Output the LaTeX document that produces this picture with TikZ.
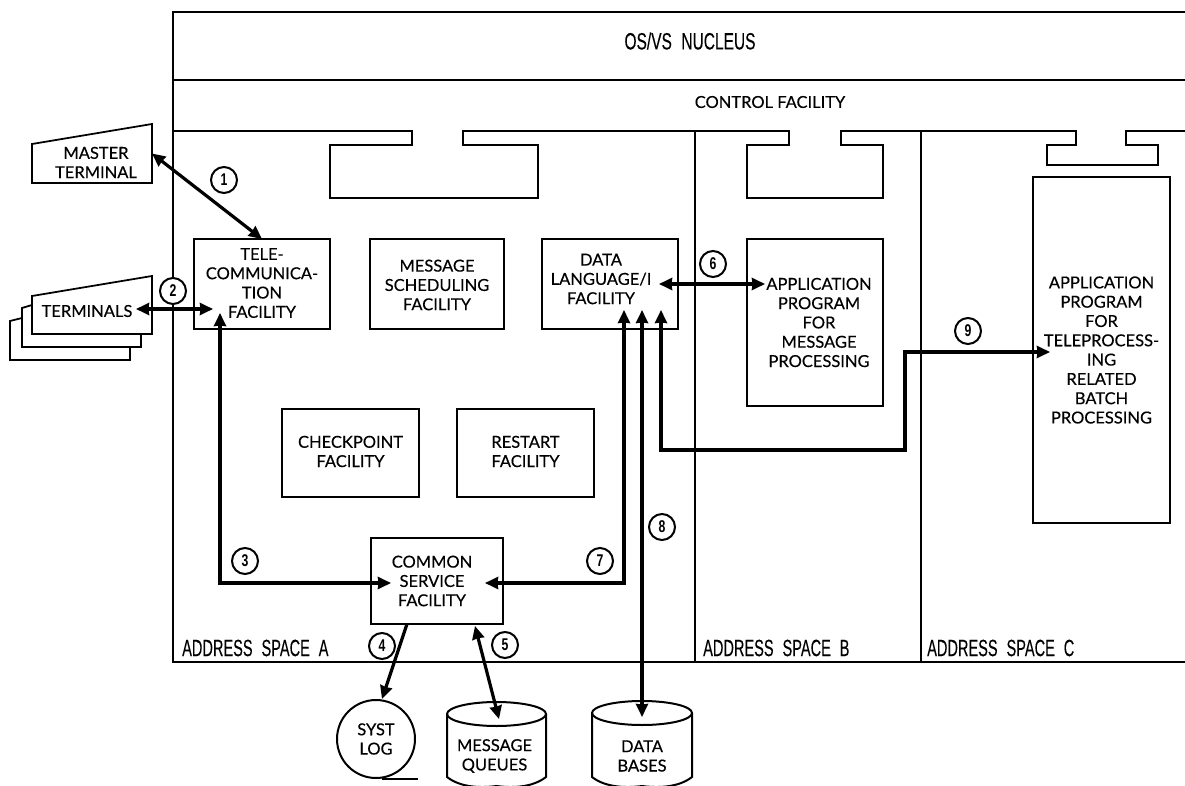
\documentclass[tikz,border=0pt]{standalone}
\usepackage{fontspec}
\usepackage{graphicx}
\setmainfont[FakeBold=0.35]{Lato}
\newfontfamily\condfont[WordSpace=2.2,FakeBold=0.2]{Liberation Sans}
\newfontfamily\numfont{Liberation Sans Bold}
\usetikzlibrary{arrows.meta,calc}
\newcommand{\condtxt}[2][.62]{\scalebox{#1}[1]{\fontsize{23.5}{26}\selectfont\condfont #2}}
\newcommand{\numtxt}[1]{\scalebox{.72}[1]{\fontsize{17}{18}\selectfont\numfont #1}}
\tikzset{
  x=1pt,y=-1pt,
  frameline/.style={line width=2pt,black},
  thinframe/.style={line width=2pt,black},
  txt/.style={font=\fontsize{16.5}{19.3}\selectfont,align=center,inner sep=0pt,text=black},
  box/.style={draw=black,line width=2pt,anchor=north west,inner sep=0pt,outer sep=0pt},
  shapeholder/.style={anchor=north west,inner sep=0pt,outer sep=0pt},
  arr/.style={line width=3.2pt,black,{Stealth[length=13pt,width=12pt,inset=0.5pt]}-{Stealth[length=13pt,width=12pt,inset=0.5pt]}},
  arrone/.style={line width=3.2pt,black,-{Stealth[length=13pt,width=12pt,inset=0.5pt]}},
  numc/.style={circle,draw=black,fill=white,line width=2pt,minimum size=26pt,inner sep=0pt},
  cond/.style={anchor=west,inner sep=0pt},
}
\begin{document}
\begin{tikzpicture}
\useasboundingbox (0,0) rectangle (1185,786);
% frame
\draw[frameline] (1185,12) -- (173,12) -- (173,662) -- (1185,662);
\draw[frameline] (173,80) -- (1185,80);
\draw[thinframe] (695,131) -- (695,662);
\draw[thinframe] (921,131) -- (921,662);
% control facility slots
\draw[frameline] (173,131) -- (412,131) -- (412,145) -- (330,145) -- (330,198) -- (538,198) -- (538,145) -- (463,145) -- (463,131)
  -- (789,131) -- (789,145) -- (747,145) -- (747,198) -- (883,198) -- (883,145) -- (841,145) -- (841,131)
  -- (1075.5,131) -- (1075.5,145) -- (1047,145) -- (1047,165) -- (1158,165) -- (1158,145) -- (1125.5,145) -- (1125.5,131) -- (1185,131);
\node[inner sep=0pt] (nucleus) at (690,41) {\condtxt[.66]{OS/VS NUCLEUS}};
\node[txt] (control) at (770,102) {CONTROL FACILITY};
\node[cond] (asa) at (182,648) {\condtxt{ADDRESS SPACE A}};
\node[cond] (asb) at (703,648) {\condtxt{ADDRESS SPACE B}};
\node[cond] (asc) at (927,648) {\condtxt{ADDRESS SPACE C}};
% terminals
\draw[line width=1.8pt,fill=white] (10,321) -- (22,318) -- (130,340) -- (130,360) -- (10,360) -- cycle;
\draw[line width=1.8pt,fill=white] (22,308) -- (32,305) -- (141,325) -- (141,347) -- (22,347) -- cycle;
\node[shapeholder,minimum width=120pt,minimum height=58pt] (terms) at (32,276) {};
\draw[line width=1.8pt,fill=white] (terms.south west) -- ($(terms.north west)+(0,20)$) -- (terms.north east) -- (terms.south east) -- cycle;
\node[txt] (termstxt) at ($(terms.center)+(-5,6)$) {TERMINALS};
\node[shapeholder,minimum width=120pt,minimum height=59pt] (master) at (32,124) {};
\draw[line width=1.8pt] (master.south west) -- ($(master.north west)+(0,20)$) -- (master.north east) -- (master.south east) -- cycle;
\node[txt] (mastertxt) at ($(master.center)+(4,9)$) {MASTER\\TERMINAL};
% facility boxes
\node[box,minimum width=136pt,minimum height=90pt,label={[txt,xshift=0pt,yshift=1pt]center:{TELE-\\COMMUNICA-\\TION\\FACILITY}}] (tele) at (194,239) {};
\node[box,minimum width=134pt,minimum height=90pt,label={[txt,yshift=-1pt]center:{MESSAGE\\SCHEDULING\\FACILITY}}] (msg) at (370,239) {};
\node[box,minimum width=136pt,minimum height=90pt,label={[txt,xshift=-9pt,yshift=5pt]center:{DATA\\LANGUAGE/I\\FACILITY}}] (dli) at (542,239) {};
\node[box,minimum width=137pt,minimum height=88pt,label={[txt,yshift=1.5pt]center:{CHECKPOINT\\FACILITY}}] (ckpt) at (282,409) {};
\node[box,minimum width=137pt,minimum height=88pt,label={[txt,yshift=1.5pt]center:{RESTART\\FACILITY}}] (restart) at (457,409) {};
\node[box,minimum width=132pt,minimum height=86pt,label={[txt,xshift=-5pt]center:{COMMON\\SERVICE\\FACILITY}}] (csf) at (371,538) {};
\node[box,minimum width=136pt,minimum height=167pt,label={[txt,xshift=4pt]center:{APPLICATION\\PROGRAM\\FOR\\MESSAGE\\PROCESSING}}] (appm) at (747,239) {};
\node[box,minimum width=137pt,minimum height=346pt,label={[txt]center:{APPLICATION\\PROGRAM\\FOR\\TELEPROCESS-\\ING\\RELATED\\BATCH\\PROCESSING}}] (appc) at (1033,177) {};
% storage
\node[circle,draw=black,line width=2pt,minimum size=78pt,inner sep=0pt,txt] (syst) at (376,739) {SYST\\LOG};
\draw[line width=2pt] ($(syst.south)+(6,0)$) -- ($(syst.south)+(42,0)$);
\node[shapeholder,minimum width=99pt,minimum height=84pt] (mq) at (447,702) {};
\node[shapeholder,minimum width=100pt,minimum height=85pt] (db) at (592,701) {};
\foreach \n/\rx in {mq/49.5,db/50}{
  \draw[line width=2pt] ($(\n.north)+(0,12)$) ellipse [x radius=\rx,y radius=12];
  \draw[line width=2pt] ($(\n.north west)+(0,12)$) -- ($(\n.south west)+(0,-9)$)
    .. controls ($(\n.south west)+(14,2)$) and ($(\n.south)+(-14,2)$) .. (\n.south)
    .. controls ($(\n.south)+(14,2)$) and ($(\n.south east)+(-14,2)$) .. ($(\n.south east)+(0,-9)$) -- ($(\n.north east)+(0,12)$);
}
\node[txt] (mqtxt) at ($(mq.center)+(-2,12)$) {MESSAGE\\QUEUES};
\node[txt] (dbtxt) at ($(db.center)+(0,12.5)$) {DATA\\BASES};
% anchor points
\coordinate (d7) at ($(dli.south west)+(82,-19)$);
\coordinate (d8) at ($(dli.south west)+(100,-19)$);
\coordinate (d9) at ($(dli.south west)+(119,-19)$);
\coordinate (c3) at ($(csf.west)+(20,2)$);
\coordinate (c7) at ($(csf.east)+(-18,2)$);
\coordinate (k9) at (905,450);
\coordinate (a9) at ($(appc.west)+(17,2)$);
% connectors
\draw[arr] (master.east) -- (tele.north);
\draw[arr] ($(terms.south east)+(-16,-25)$) -- ($(tele.south west)+(19,-20)$);
\draw[arr] ($(tele.south west)+(26,-16)$) |- (c3);
\draw[arrone] ($(csf.south west)+(36,0)$) -- ($(syst.north)+(6,0)$);
\draw[arr] ($(csf.south west)+(104,2)$) -- ($(mq.north west)+(52,17)$);
\draw[arr] ($(dli.east)+(-19,0)$) -- ($(appm.west)+(18,-38.5)$);
\draw[arr] (d7) |- (c7);
\draw[arr] (d8) -- ($(db.north)+(0,16)$);
\draw[arr] (d9) |- (k9) -- (k9 |- a9) -- (a9);
% numbers
\node[numc] (n1) at (224,180) {\numtxt{1}};
\node[numc] (n2) at (173,291) {\numtxt{2}};
\node[numc] (n3) at (245,561) {\numtxt{3}};
\node[numc] (n4) at (382,646) {\numtxt{4}};
\node[numc] (n5) at (505,645) {\numtxt{5}};
\node[numc] (n6) at (713,264) {\numtxt{6}};
\node[numc] (n7) at (600,561) {\numtxt{7}};
\node[numc] (n8) at (662,527) {\numtxt{8}};
\node[numc] (n9) at (968,331) {\numtxt{9}};
\end{tikzpicture}
\end{document}
